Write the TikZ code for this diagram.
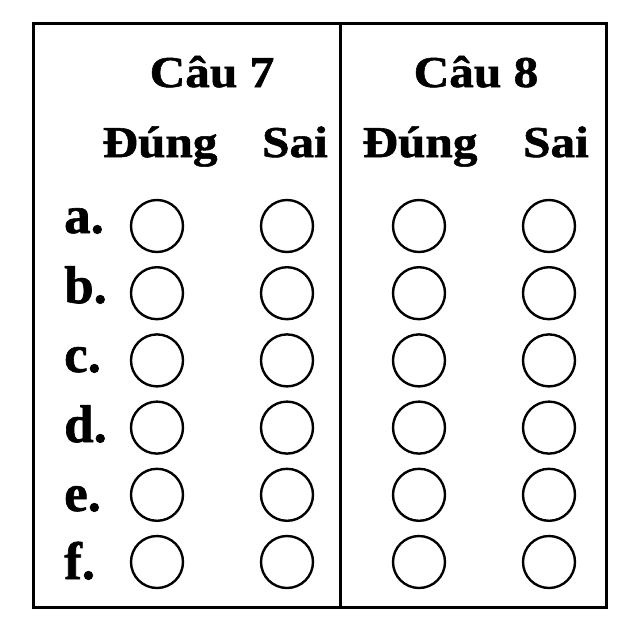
\documentclass[tikz,border=0pt]{standalone}
\usepackage{fontspec}
\setmainfont{Liberation Serif}
\newfontfamily\heavyfont{Liberation Serif Bold}[FakeBold=1.2]
\begin{document}
\begin{tikzpicture}[x=1pt,y=-1pt,
  hdr/.style={font=\fontsize{44}{44}\selectfont\heavyfont, anchor=base, inner sep=0pt, xscale=1.12},
  lbl/.style={font=\fontsize{53}{53}\selectfont\heavyfont, anchor=base west, inner sep=0pt},
  bubble/.style={draw, circle, line width=2.4pt, minimum size=52pt, inner sep=0pt}]
\useasboundingbox (0,0) rectangle (640,640);
\fill[white] (0,0) rectangle (640,640);
\draw[line width=3pt] (33,23) rectangle (606,607);
\draw[line width=3pt] (340,23) -- (340,607);
\node[hdr] (q7) at (212,87) {Câu 7};
\node[hdr] (q8) at (476,87) {Câu 8};
\node[hdr] (d7) at (160,157) {Đúng};
\node[hdr] (s7) at (295,157) {Sai};
\node[hdr] (d8) at (420,157) {Đúng};
\node[hdr] (s8) at (556,157) {Sai};
\foreach \l/\b [count=\i from 0] in {a/233,b/303,c/372,d/442,e/511,f/579}{
  \node[lbl] (L\l) at (64,\b) {\l.};
  \pgfmathsetmacro{\cy}{226+67.2*\i}
  \node[bubble] (c7d\l) at (157,\cy) {};
  \node[bubble] (c7s\l) at (287,\cy) {};
  \node[bubble] (c8d\l) at (419,\cy) {};
  \node[bubble] (c8s\l) at (549,\cy) {};
}
\end{tikzpicture}
\end{document}
